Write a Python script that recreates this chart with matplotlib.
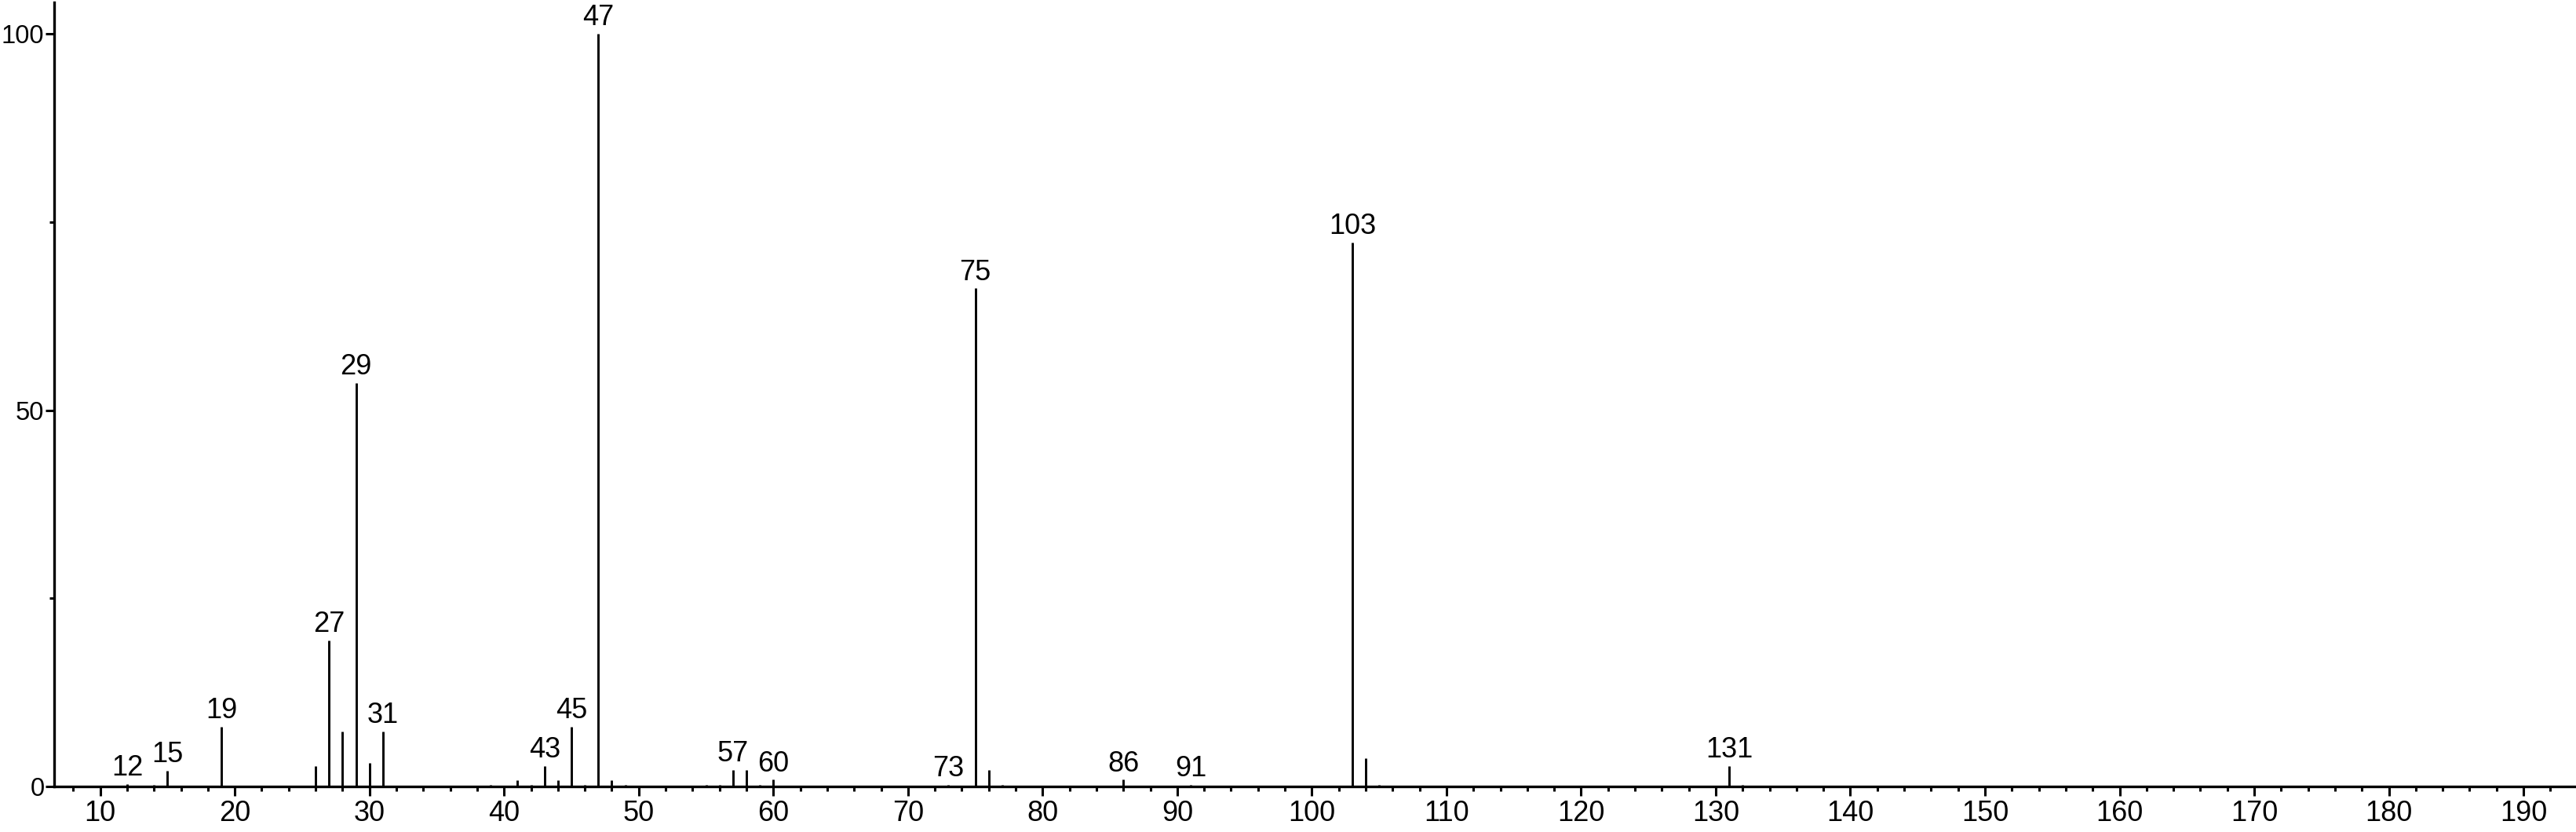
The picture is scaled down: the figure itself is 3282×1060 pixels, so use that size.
import matplotlib
matplotlib.use("Agg")
import matplotlib.pyplot as plt
from matplotlib.ticker import MultipleLocator, FixedLocator

plt.rcParams["font.family"] = ["Liberation Sans", "DejaVu Sans"]

# ---------- данные: m/z и относительная интенсивность ----------
mz = [12, 14, 15, 19, 26, 27, 28, 29, 30, 31,
      39, 41, 42, 43, 44, 45, 46, 47, 48, 49,
      55, 56, 57, 58, 59, 60, 73, 75, 76, 77,
      86, 91, 103, 104, 105, 131, 132]
intensity = [0.3, 0.2, 2.1, 7.9, 2.7, 19.4, 7.3, 53.6, 3.1, 7.3,
             0.2, 0.8, 0.2, 2.7, 0.8, 7.9, 0.2, 100.0, 0.8, 0.2,
             0.2, 0.2, 2.2, 2.2, 0.2, 0.9, 0.2, 66.2, 2.2, 0.2,
             0.9, 0.2, 72.3, 3.8, 0.2, 2.7, 0.2]

labeled_mz = [12, 15, 19, 27, 29, 31, 43, 45, 47, 57, 60, 73, 75, 86, 91, 103, 131]

x_major = list(range(10, 200, 10))
y_major = [0, 50, 100]
y_minor = [25, 75]

W, H = 3282, 1060
fig = plt.figure(figsize=(W / 100, H / 100), dpi=100)
ax = fig.add_axes([69 / W, 58 / H, (W - 69) / W, (1002 - 3) / H])

ax.vlines(mz, 0, intensity, colors="black", linewidth=2.1)

height = dict(zip(mz, intensity))
for m in labeled_mz:
    ax.annotate(str(m), (m, height[m]), textcoords="offset points",
                xytext=(0, 2), ha="center", va="bottom", fontsize=26)

ax.set_xlim(6.58, 193.9)
ax.set_ylim(0, 104.2)

ax.xaxis.set_major_locator(FixedLocator(x_major))
ax.xaxis.set_minor_locator(MultipleLocator(2))
ax.yaxis.set_major_locator(FixedLocator(y_major))
ax.yaxis.set_minor_locator(FixedLocator(y_minor))

for side in ("top", "right"):
    ax.spines[side].set_visible(False)
for side in ("left", "bottom"):
    ax.spines[side].set_linewidth(2.4)

ax.tick_params(axis="both", which="major", direction="out", length=8.5,
               width=2.2, color="black")
ax.tick_params(axis="both", which="minor", direction="out", length=4,
               width=2.2, color="black")
ax.tick_params(axis="x", which="major", pad=4, labelsize=26)
ax.tick_params(axis="y", which="major", length=8, pad=1, labelsize=23.5)

fig.savefig("out.png", dpi=100, facecolor="white")
